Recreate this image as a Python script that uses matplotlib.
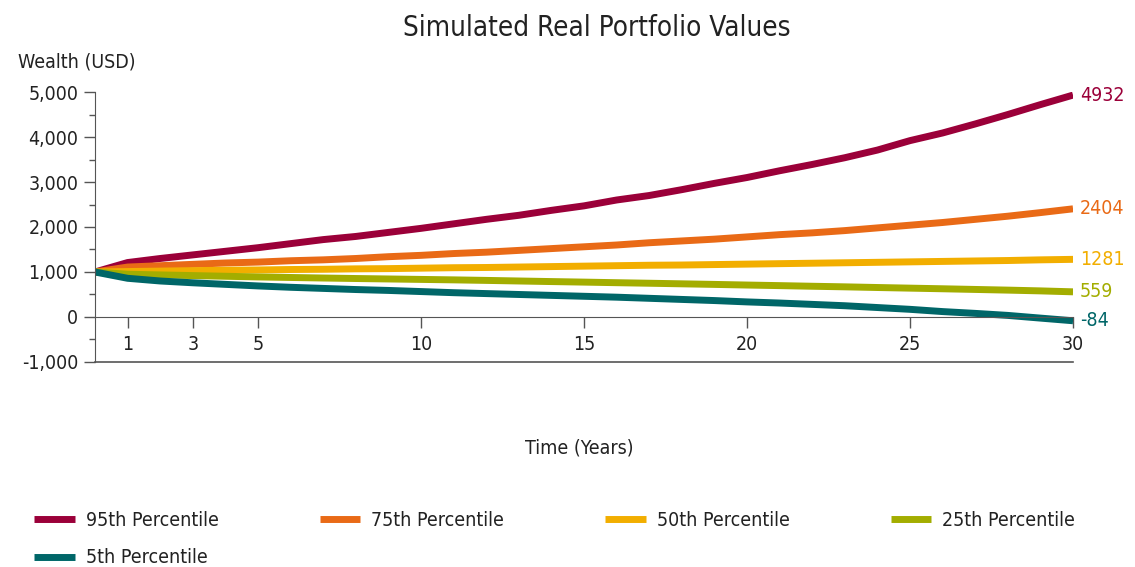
import numpy as np
import matplotlib.pyplot as plt
from matplotlib.ticker import FuncFormatter, MultipleLocator

# data
years = list(range(0, 31))
p95 = [1000, 1210, 1300, 1380, 1460, 1540, 1630, 1720, 1790, 1880, 1970,
       2070, 2170, 2260, 2370, 2470, 2600, 2700, 2830, 2970, 3100,
       3250, 3390, 3540, 3710, 3920, 4090, 4290, 4500, 4720, 4932]
p75 = [1000, 1110, 1140, 1170, 1200, 1220, 1250, 1270, 1300, 1340, 1370,
       1410, 1440, 1480, 1520, 1560, 1600, 1650, 1690, 1730, 1780,
       1830, 1870, 1920, 1980, 2040, 2100, 2170, 2240, 2320, 2404]
p50 = [1000, 1010, 1020, 1030, 1040, 1045, 1055, 1060, 1070, 1075, 1085,
       1095, 1100, 1110, 1120, 1130, 1140, 1150, 1155, 1165, 1175,
       1185, 1195, 1205, 1215, 1225, 1235, 1245, 1255, 1270, 1281]
p25 = [1000, 950, 935, 920, 905, 890, 878, 866, 855, 845, 835,
       825, 813, 800, 787, 775, 762, 750, 737, 724, 710,
       697, 683, 670, 655, 641, 627, 612, 597, 580, 559]
p5 = [1000, 860, 800, 760, 725, 690, 660, 635, 610, 590, 565,
      540, 520, 500, 480, 460, 440, 415, 390, 365, 335,
      310, 280, 250, 210, 170, 120, 80, 35, -25, -84]

series_names = ["95th Percentile", "75th Percentile", "50th Percentile",
                "25th Percentile", "5th Percentile"]
colors = ["#9B0039", "#E96A16", "#F2AE00", "#A3AD00", "#006668"]
x_ticks = [1, 3, 5, 10, 15, 20, 25, 30]

plt.rcParams["font.family"] = ["DejaVu Sans"]
plt.rcParams["font.stretch"] = "condensed"
TXT = "#222222"
AXC = "#555555"

fig = plt.figure(figsize=(11.35, 5.67), dpi=100)
ax = fig.add_axes([0.0837, 0.3616, 0.8617, 0.4761])

lines = []
for name, vals, col in zip(series_names, [p95, p75, p50, p25, p5], colors):
    ln, = ax.plot(years, vals, color=col, lw=5, label=name,
                  solid_capstyle="butt")
    lines.append(ln)
    ax.annotate(str(vals[-1]), (years[-1], vals[-1]), xytext=(5, 0),
                textcoords="offset points", va="center", ha="left",
                color=col, fontsize=14)

ax.set_xlim(0, 30)
ax.set_ylim(-1000, 5000)

# x axis drawn on the zero line, bottom border at -1000
ax.spines["bottom"].set_position(("data", 0))
ax.spines["bottom"].set_color(AXC)
ax.spines["left"].set_color(AXC)
ax.spines["top"].set_visible(False)
ax.spines["right"].set_visible(False)
ax.axhline(-1000, color=AXC, lw=1.2, clip_on=False)

ax.set_xticks(x_ticks)
ax.tick_params(axis="x", length=8, width=1, color=AXC, pad=5,
               labelsize=14, labelcolor=TXT)
ax.yaxis.set_major_locator(MultipleLocator(1000))
ax.yaxis.set_minor_locator(MultipleLocator(500))
ax.yaxis.set_major_formatter(FuncFormatter(lambda v, p: f"{int(v):,}"))
ax.tick_params(axis="y", which="major", length=8, width=1, color=AXC,
               labelsize=14, labelcolor=TXT, pad=4)
ax.tick_params(axis="y", which="minor", length=4, width=1, color=AXC)

fig.text(0.526, 0.95, "Simulated Real Portfolio Values", ha="center",
         va="center", fontsize=20, color=TXT)
fig.text(0.016, 0.891, "Wealth (USD)", ha="left", va="center",
         fontsize=14, color=TXT)
fig.text(0.51, 0.21, "Time (Years)", ha="center", va="center",
         fontsize=14, color=TXT)

# legend fills column by column: put 5th percentile under the first entry
order = [0, 4, 1, 2, 3]
fig.legend([lines[i] for i in order], [series_names[i] for i in order],
           loc="upper left", bbox_to_anchor=(0.03, 0.099), ncol=4,
           frameon=False, fontsize=14, handlelength=2.1, handletextpad=0.55,
           columnspacing=5.2, labelspacing=0.95, borderaxespad=0,
           borderpad=0, labelcolor=TXT)

fig.savefig("out.png", dpi=100)
